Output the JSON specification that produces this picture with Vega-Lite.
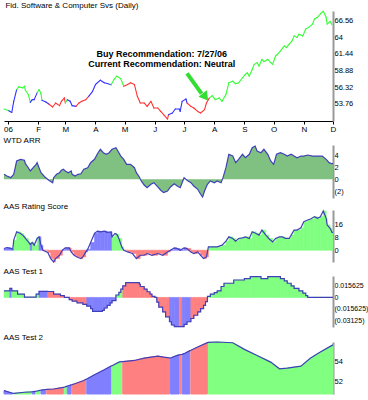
{
"$schema":"https://vega.github.io/schema/vega-lite/v6.json",
"padding":{"left":1,"top":1,"right":0,"bottom":0},
"spacing":3,
"resolve":{"scale":{"color":"independent","stroke":"independent"}},
"config":{"view":{"stroke":null},"title":{"anchor":"start","fontSize":8,"fontWeight":"normal","font":"Liberation Sans Narrow, Liberation Sans","color":"#000000","offset":1,"dx":2},"axis":{"labelFont":"Liberation Sans","labelFontSize":7.5,"labelColor":"#000000","grid":false,"labelOverlap":false}},
"vconcat":[
{"title":{"text":"Fid. Software & Computer Svs (Daily)","offset":1,"fontSize":8},"width":329,"height":110,
"resolve":{"axis":{"x":"independent","y":"independent"}},
"data":{"format":{"parse":{"d":"date"}},"values":[
{"d":"2005-12-28","v":52.99,"c":"g"},{"d":"2006-01-02","v":52.73,"c":"b"},{"d":"2006-01-05","v":52.46,"c":"b"},{"d":"2006-01-07","v":54.16,"c":"b"},{"d":"2006-01-10","v":55.97,"c":"g"},{"d":"2006-01-12","v":56.38,"c":"g"},{"d":"2006-01-16","v":56.23,"c":"g"},{"d":"2006-01-18","v":56.48,"c":"g"},{"d":"2006-01-19","v":55.86,"c":"g"},{"d":"2006-01-22","v":55.2,"c":"g"},{"d":"2006-01-24","v":54.01,"c":"b"},{"d":"2006-01-26","v":54.42,"c":"b"},{"d":"2006-01-28","v":54.42,"c":"b"},{"d":"2006-01-31","v":55.46,"c":"g"},{"d":"2006-02-02","v":55.97,"c":"g"},{"d":"2006-02-04","v":55.35,"c":"g"},{"d":"2006-02-05","v":54.32,"c":"b"},{"d":"2006-02-09","v":54.07,"c":"b"},{"d":"2006-02-12","v":53.76,"c":"r"},{"d":"2006-02-16","v":53.3,"c":"r"},{"d":"2006-02-19","v":53.91,"c":"r"},{"d":"2006-02-23","v":53.5,"c":"r"},{"d":"2006-02-25","v":54.16,"c":"r"},{"d":"2006-02-28","v":54.69,"c":"r"},{"d":"2006-03-01","v":53.91,"c":"g"},{"d":"2006-03-03","v":54.42,"c":"b"},{"d":"2006-03-06","v":54.16,"c":"b"},{"d":"2006-03-08","v":53.5,"c":"b"},{"d":"2006-03-12","v":53.39,"c":"r"},{"d":"2006-03-15","v":53.91,"c":"r"},{"d":"2006-03-18","v":54.16,"c":"r"},{"d":"2006-03-22","v":54.42,"c":"r"},{"d":"2006-03-25","v":54.93,"c":"b"},{"d":"2006-03-29","v":55.7,"c":"b"},{"d":"2006-04-01","v":56.74,"c":"b"},{"d":"2006-04-06","v":57.4,"c":"b"},{"d":"2006-04-10","v":57.0,"c":"b"},{"d":"2006-04-13","v":56.89,"c":"b"},{"d":"2006-04-17","v":56.69,"c":"g"},{"d":"2006-04-20","v":57.51,"c":"g"},{"d":"2006-04-23","v":58.02,"c":"g"},{"d":"2006-04-27","v":57.62,"c":"g"},{"d":"2006-04-30","v":56.48,"c":"r"},{"d":"2006-05-04","v":56.74,"c":"r"},{"d":"2006-05-07","v":57.0,"c":"r"},{"d":"2006-05-11","v":56.74,"c":"r"},{"d":"2006-05-14","v":54.93,"c":"r"},{"d":"2006-05-17","v":53.91,"c":"r"},{"d":"2006-05-21","v":53.91,"c":"r"},{"d":"2006-05-24","v":53.39,"c":"r"},{"d":"2006-05-28","v":54.16,"c":"r"},{"d":"2006-05-31","v":53.14,"c":"r"},{"d":"2006-06-04","v":53.14,"c":"r"},{"d":"2006-06-07","v":52.62,"c":"r"},{"d":"2006-06-10","v":52.11,"c":"r"},{"d":"2006-06-14","v":51.45,"c":"r"},{"d":"2006-06-15","v":52.11,"c":"b"},{"d":"2006-06-19","v":52.37,"c":"b"},{"d":"2006-06-22","v":52.99,"c":"b"},{"d":"2006-06-26","v":52.99,"c":"b"},{"d":"2006-06-27","v":52.62,"c":"b"},{"d":"2006-06-29","v":54.16,"c":"b"},{"d":"2006-07-03","v":54.53,"c":"b"},{"d":"2006-07-04","v":53.91,"c":"r"},{"d":"2006-07-08","v":53.39,"c":"r"},{"d":"2006-07-11","v":53.14,"c":"r"},{"d":"2006-07-15","v":52.62,"c":"r"},{"d":"2006-07-18","v":52.37,"c":"r"},{"d":"2006-07-22","v":52.88,"c":"r"},{"d":"2006-07-24","v":53.91,"c":"r"},{"d":"2006-07-27","v":54.69,"c":"g"},{"d":"2006-07-30","v":55.04,"c":"g"},{"d":"2006-08-02","v":54.42,"c":"g"},{"d":"2006-08-06","v":54.69,"c":"g"},{"d":"2006-08-09","v":54.16,"c":"g"},{"d":"2006-08-13","v":55.2,"c":"g"},{"d":"2006-08-16","v":57.0,"c":"g"},{"d":"2006-08-20","v":57.25,"c":"g"},{"d":"2006-08-23","v":56.85,"c":"g"},{"d":"2006-08-26","v":57.0,"c":"g"},{"d":"2006-08-30","v":57.77,"c":"g"},{"d":"2006-09-02","v":58.28,"c":"g"},{"d":"2006-09-04","v":58.54,"c":"g"},{"d":"2006-09-06","v":58.02,"c":"g"},{"d":"2006-09-09","v":59.05,"c":"g"},{"d":"2006-09-11","v":59.82,"c":"g"},{"d":"2006-09-14","v":60.09,"c":"g"},{"d":"2006-09-16","v":59.56,"c":"g"},{"d":"2006-09-19","v":60.6,"c":"g"},{"d":"2006-09-21","v":60.24,"c":"g"},{"d":"2006-09-25","v":60.6,"c":"g"},{"d":"2006-09-28","v":60.09,"c":"g"},{"d":"2006-09-30","v":59.82,"c":"g"},{"d":"2006-10-03","v":61.11,"c":"g"},{"d":"2006-10-05","v":61.37,"c":"g"},{"d":"2006-10-08","v":61.88,"c":"g"},{"d":"2006-10-12","v":62.65,"c":"g"},{"d":"2006-10-14","v":62.4,"c":"g"},{"d":"2006-10-17","v":62.91,"c":"g"},{"d":"2006-10-20","v":63.42,"c":"g"},{"d":"2006-10-22","v":64.19,"c":"g"},{"d":"2006-10-25","v":63.95,"c":"g"},{"d":"2006-10-27","v":64.45,"c":"g"},{"d":"2006-10-31","v":64.19,"c":"g"},{"d":"2006-11-03","v":65.23,"c":"g"},{"d":"2006-11-06","v":65.49,"c":"g"},{"d":"2006-11-10","v":66.0,"c":"g"},{"d":"2006-11-12","v":66.77,"c":"g"},{"d":"2006-11-15","v":67.03,"c":"g"},{"d":"2006-11-18","v":67.54,"c":"g"},{"d":"2006-11-21","v":67.96,"c":"g"},{"d":"2006-11-24","v":67.03,"c":"g"},{"d":"2006-11-25","v":66.0,"c":"g"},{"d":"2006-11-28","v":66.41,"c":"g"},{"d":"2006-11-30","v":65.89,"c":"g"}]},
"layer":[
{"transform":[{"window":[{"op":"lead","field":"d","as":"nd"},{"op":"lead","field":"v","as":"nv"}],"sort":[{"field":"d"}]},{"filter":"datum.nd != null"}],
"mark":{"type":"rule","strokeWidth":1.1,"strokeCap":"round"},
"encoding":{
"x":{"field":"d","type":"temporal","scale":{"domain":[{"year":2005,"month":12,"date":28},{"year":2006,"month":12,"date":1}]},"axis":{"orient":"bottom","tickCount":{"interval":"month","step":1},"labelExpr":"month(datum.value)==0 ? '06' : slice(timeFormat(datum.value,'%b'),0,1)","labelFontSize":8,"tickSize":3,"domainColor":"#000000","tickColor":"#000000","labelPadding":1,"labelOffset":0,"labelFlush":false,"labelOverlap":false,"title":null}},
"x2":{"field":"nd"},
"y":{"field":"v","type":"quantitative","scale":{"domain":[51.15,68.0],"nice":false,"zero":false},"axis":{"orient":"right","values":[53.76,56.32,58.88,61.44,64,66.56],"labelExpr":"format(datum.value,'~g')","labelOverlap":false,"ticks":false,"tickSize":0,"domainColor":"#999999","domainWidth":2,"labelPadding":1,"title":null}},
"y2":{"field":"nv"},
"color":{"field":"c","type":"nominal","scale":{"domain":["g","b","r"],"range":["#33FF33","#3333FF","#FF3333"]},"legend":null}}},
{"data":{"values":[{}]},"mark":{"type":"rule","strokeWidth":4,"color":"#33DD33"},"encoding":{"x":{"datum":{"year":2006,"month":7,"date":4},"type":"temporal","axis":null},"x2":{"datum":{"year":2006,"month":7,"date":19}},"y":{"datum":58.44,"type":"quantitative","axis":null},"y2":{"datum":55.35}}},
{"data":{"values":[{}]},"mark":{"type":"point","shape":"triangle","filled":true,"size":110,"angle":142,"color":"#33DD33","opacity":1},"encoding":{"x":{"datum":{"year":2006,"month":7,"date":22},"type":"temporal","axis":null},"y":{"datum":55.0,"type":"quantitative","axis":null}}},
{"data":{"values":[{}]},"mark":{"type":"text","text":["Buy Recommendation: 7/27/06","Current Recommendation: Neutral"],"font":"Liberation Sans","fontSize":9,"fontWeight":"bold","align":"center","baseline":"top","lineHeight":10.5,"color":"#000000"},"encoding":{"x":{"datum":{"year":2006,"month":6,"date":8},"type":"temporal","axis":null},"y":{"datum":62.1,"type":"quantitative","axis":null}}}
]},
{"title":{"text":"WTD ARR","offset":-1,"fontSize":8},"width":329,"height":53,
"data":{"format":{"parse":{"d":"date"}},"values":[
{"d":"2005-12-28","v":0.83},{"d":"2005-12-31","v":0.55},{"d":"2006-01-04","v":0.27},{"d":"2006-01-07","v":0.83},{"d":"2006-01-10","v":3.05},{"d":"2006-01-14","v":3.33},{"d":"2006-01-18","v":3.17},{"d":"2006-01-19","v":2.6},{"d":"2006-01-22","v":1.93},{"d":"2006-01-24","v":1.38},{"d":"2006-01-27","v":1.93},{"d":"2006-01-30","v":2.5},{"d":"2006-01-31","v":2.77},{"d":"2006-02-02","v":1.93},{"d":"2006-02-04","v":1.1},{"d":"2006-02-08","v":0.38},{"d":"2006-02-12","v":-0.17},{"d":"2006-02-16","v":-0.57},{"d":"2006-02-17","v":0.27},{"d":"2006-02-20","v":0.83},{"d":"2006-02-23","v":1.1},{"d":"2006-02-25","v":1.5},{"d":"2006-02-27","v":1.67},{"d":"2006-03-01","v":1.38},{"d":"2006-03-04","v":1.1},{"d":"2006-03-07","v":1.38},{"d":"2006-03-08","v":0.83},{"d":"2006-03-11","v":0.55},{"d":"2006-03-14","v":0.83},{"d":"2006-03-17","v":0.93},{"d":"2006-03-20","v":1.67},{"d":"2006-03-24","v":1.93},{"d":"2006-03-27","v":2.77},{"d":"2006-03-31","v":3.33},{"d":"2006-04-03","v":4.27},{"d":"2006-04-06","v":5.0},{"d":"2006-04-09","v":4.43},{"d":"2006-04-12","v":4.17},{"d":"2006-04-15","v":4.43},{"d":"2006-04-18","v":5.0},{"d":"2006-04-22","v":5.27},{"d":"2006-04-24","v":4.72},{"d":"2006-04-27","v":3.88},{"d":"2006-04-30","v":3.33},{"d":"2006-05-03","v":2.5},{"d":"2006-05-07","v":2.5},{"d":"2006-05-11","v":1.93},{"d":"2006-05-13","v":1.1},{"d":"2006-05-16","v":0.38},{"d":"2006-05-18","v":-0.28},{"d":"2006-05-21","v":-0.95},{"d":"2006-05-24","v":-1.4},{"d":"2006-05-28","v":-0.83},{"d":"2006-05-31","v":-0.57},{"d":"2006-06-04","v":-1.28},{"d":"2006-06-07","v":-1.83},{"d":"2006-06-10","v":-2.23},{"d":"2006-06-14","v":-1.95},{"d":"2006-06-17","v":-1.28},{"d":"2006-06-21","v":-0.73},{"d":"2006-06-24","v":-1.12},{"d":"2006-06-27","v":-1.4},{"d":"2006-07-01","v":0.27},{"d":"2006-07-04","v":-0.17},{"d":"2006-07-08","v":-0.57},{"d":"2006-07-11","v":-1.12},{"d":"2006-07-15","v":-1.67},{"d":"2006-07-18","v":-2.5},{"d":"2006-07-20","v":-2.95},{"d":"2006-07-22","v":-1.95},{"d":"2006-07-25","v":-0.83},{"d":"2006-07-28","v":-0.28},{"d":"2006-08-01","v":-0.57},{"d":"2006-08-04","v":-0.28},{"d":"2006-08-08","v":-0.57},{"d":"2006-08-10","v":0.27},{"d":"2006-08-13","v":1.93},{"d":"2006-08-16","v":4.17},{"d":"2006-08-20","v":3.88},{"d":"2006-08-23","v":2.77},{"d":"2006-08-26","v":3.33},{"d":"2006-08-30","v":4.17},{"d":"2006-09-02","v":3.6},{"d":"2006-09-06","v":4.17},{"d":"2006-09-09","v":5.27},{"d":"2006-09-12","v":5.55},{"d":"2006-09-14","v":4.72},{"d":"2006-09-18","v":4.43},{"d":"2006-09-21","v":5.0},{"d":"2006-09-25","v":4.17},{"d":"2006-09-28","v":3.05},{"d":"2006-10-01","v":2.5},{"d":"2006-10-04","v":4.17},{"d":"2006-10-08","v":4.43},{"d":"2006-10-12","v":4.17},{"d":"2006-10-15","v":3.88},{"d":"2006-10-19","v":4.17},{"d":"2006-10-22","v":3.88},{"d":"2006-10-25","v":3.6},{"d":"2006-10-29","v":3.88},{"d":"2006-11-01","v":3.88},{"d":"2006-11-05","v":4.05},{"d":"2006-11-10","v":3.88},{"d":"2006-11-15","v":3.88},{"d":"2006-11-20","v":3.88},{"d":"2006-11-24","v":3.33},{"d":"2006-11-27","v":2.77},{"d":"2006-11-30","v":2.6},{"d":"2006-12-01","v":2.6}]},
"encoding":{
"x":{"field":"d","type":"temporal","scale":{"domain":[{"year":2005,"month":12,"date":28},{"year":2006,"month":12,"date":1}]},"axis":null},
"y":{"field":"v","type":"quantitative","scale":{"domain":[-3.12,5.72],"nice":false,"zero":false},"axis":{"orient":"right","values":[-2,0,2,4],"labelExpr":"datum.value < 0 ? '(' + format(-datum.value,'~g') + ')' : format(datum.value,'~g')","labelOverlap":false,"ticks":false,"tickSize":0,"domainColor":"#999999","domainWidth":2,"labelPadding":1,"title":null}}},
"layer":[
{"mark":{"type":"area","color":"#80C080","opacity":1},"encoding":{"y2":{"datum":0}}},
{"mark":{"type":"line","color":"#4040B8","strokeWidth":1.2}}
]},
{"title":{"text":"AAS Rating Score","offset":-2.5,"fontSize":8},"width":329,"height":52,
"data":{"format":{"parse":{"d":"date"}},"values":[
{"d":"2005-12-28","v":1.05,"c":"b"},{"d":"2005-12-31","v":1.66,"c":"b"},{"d":"2006-01-04","v":1.05,"c":"b"},{"d":"2006-01-06","v":0.62,"c":"b"},{"d":"2006-01-07","v":6.15,"c":"g"},{"d":"2006-01-10","v":11.26,"c":"g"},{"d":"2006-01-14","v":10.28,"c":"g"},{"d":"2006-01-17","v":8.8,"c":"g"},{"d":"2006-01-19","v":7.2,"c":"g"},{"d":"2006-01-22","v":5.1,"c":"g"},{"d":"2006-01-24","v":3.5,"c":"b"},{"d":"2006-01-26","v":4.74,"c":"g"},{"d":"2006-01-28","v":3.08,"c":"g"},{"d":"2006-01-31","v":7.2,"c":"g"},{"d":"2006-02-02","v":8.18,"c":"b"},{"d":"2006-02-04","v":3.08,"c":"b"},{"d":"2006-02-06","v":0,"c":"r"},{"d":"2006-02-11","v":-1.42,"c":"r"},{"d":"2006-02-14","v":-5.1,"c":"r"},{"d":"2006-02-17","v":-7.2,"c":"r"},{"d":"2006-02-19","v":-5.1,"c":"r"},{"d":"2006-02-23","v":-3.08,"c":"r"},{"d":"2006-02-26","v":0,"c":"b"},{"d":"2006-03-01","v":1.42,"c":"b"},{"d":"2006-03-05","v":1.42,"c":"r"},{"d":"2006-03-07","v":-1.05,"c":"r"},{"d":"2006-03-10","v":-3.08,"c":"r"},{"d":"2006-03-13","v":-4.12,"c":"r"},{"d":"2006-03-17","v":-5.1,"c":"r"},{"d":"2006-03-19","v":-4.12,"c":"r"},{"d":"2006-03-22","v":-1.05,"c":"b"},{"d":"2006-03-24","v":0.62,"c":"b"},{"d":"2006-03-27","v":4.74,"c":"b"},{"d":"2006-03-31","v":10.28,"c":"b"},{"d":"2006-04-03","v":11.7,"c":"b"},{"d":"2006-04-06","v":11.26,"c":"b"},{"d":"2006-04-10","v":11.7,"c":"b"},{"d":"2006-04-13","v":10.9,"c":"b"},{"d":"2006-04-17","v":11.26,"c":"b"},{"d":"2006-04-18","v":8.18,"c":"g"},{"d":"2006-04-21","v":10.28,"c":"g"},{"d":"2006-04-23","v":9.66,"c":"g"},{"d":"2006-04-25","v":7.2,"c":"g"},{"d":"2006-04-28","v":2.03,"c":"g"},{"d":"2006-04-30","v":0,"c":"r"},{"d":"2006-05-04","v":-1.05,"c":"r"},{"d":"2006-05-09","v":-2.03,"c":"r"},{"d":"2006-05-13","v":-5.1,"c":"r"},{"d":"2006-05-17","v":-3.08,"c":"r"},{"d":"2006-05-21","v":-3.08,"c":"r"},{"d":"2006-05-24","v":-2.03,"c":"r"},{"d":"2006-05-29","v":-3.08,"c":"r"},{"d":"2006-06-04","v":-2.03,"c":"r"},{"d":"2006-06-09","v":-3.08,"c":"r"},{"d":"2006-06-14","v":-1.05,"c":"r"},{"d":"2006-06-17","v":0,"c":"b"},{"d":"2006-06-21","v":1.42,"c":"b"},{"d":"2006-06-24","v":1.05,"c":"b"},{"d":"2006-06-27","v":0,"c":"b"},{"d":"2006-07-01","v":1.42,"c":"b"},{"d":"2006-07-04","v":1.05,"c":"r"},{"d":"2006-07-08","v":-1.05,"c":"r"},{"d":"2006-07-11","v":-2.03,"c":"r"},{"d":"2006-07-15","v":-1.05,"c":"r"},{"d":"2006-07-18","v":-3.08,"c":"r"},{"d":"2006-07-21","v":-5.1,"c":"r"},{"d":"2006-07-24","v":-4.12,"c":"r"},{"d":"2006-07-26","v":2.03,"c":"g"},{"d":"2006-07-28","v":2.03,"c":"g"},{"d":"2006-08-01","v":2.03,"c":"g"},{"d":"2006-08-04","v":2.03,"c":"g"},{"d":"2006-08-09","v":3.08,"c":"g"},{"d":"2006-08-13","v":5.54,"c":"g"},{"d":"2006-08-16","v":8.18,"c":"g"},{"d":"2006-08-20","v":7.2,"c":"g"},{"d":"2006-08-23","v":5.54,"c":"g"},{"d":"2006-08-26","v":7.2,"c":"g"},{"d":"2006-08-30","v":7.57,"c":"g"},{"d":"2006-09-02","v":8.18,"c":"g"},{"d":"2006-09-06","v":7.2,"c":"g"},{"d":"2006-09-09","v":11.26,"c":"g"},{"d":"2006-09-13","v":10.28,"c":"g"},{"d":"2006-09-16","v":9.23,"c":"g"},{"d":"2006-09-19","v":12.3,"c":"g"},{"d":"2006-09-23","v":9.23,"c":"g"},{"d":"2006-09-26","v":7.2,"c":"g"},{"d":"2006-09-30","v":5.1,"c":"g"},{"d":"2006-10-03","v":7.2,"c":"g"},{"d":"2006-10-07","v":8.18,"c":"g"},{"d":"2006-10-10","v":8.18,"c":"g"},{"d":"2006-10-13","v":7.2,"c":"g"},{"d":"2006-10-17","v":7.2,"c":"g"},{"d":"2006-10-19","v":9.23,"c":"g"},{"d":"2006-10-22","v":12.3,"c":"g"},{"d":"2006-10-25","v":12.3,"c":"g"},{"d":"2006-10-29","v":13.7,"c":"g"},{"d":"2006-11-01","v":17.4,"c":"g"},{"d":"2006-11-05","v":18.5,"c":"g"},{"d":"2006-11-08","v":19.1,"c":"g"},{"d":"2006-11-12","v":20.5,"c":"g"},{"d":"2006-11-15","v":19.5,"c":"g"},{"d":"2006-11-18","v":20.5,"c":"g"},{"d":"2006-11-21","v":24.0,"c":"g"},{"d":"2006-11-24","v":19.5,"c":"g"},{"d":"2006-11-25","v":15.4,"c":"g"},{"d":"2006-11-28","v":13.4,"c":"g"},{"d":"2006-11-30","v":10.9,"c":"g"},{"d":"2006-12-01","v":10.9,"c":"g"}]},
"encoding":{
"x":{"field":"d","type":"temporal","scale":{"domain":[{"year":2005,"month":12,"date":28},{"year":2006,"month":12,"date":1}]},"axis":null},
"y":{"field":"v","type":"quantitative","scale":{"domain":[-7.2,24.6],"nice":false,"zero":false},"axis":{"orient":"right","values":[0,8,16],"labelExpr":"format(datum.value,'d')","labelOverlap":false,"ticks":false,"tickSize":0,"domainColor":"#999999","domainWidth":2,"labelPadding":1,"title":null}}},
"layer":[
{"transform":[{"window":[{"op":"lead","field":"d","as":"nd"}],"sort":[{"field":"d"}]},{"filter":"datum.nd != null"}],
"mark":{"type":"rect","strokeWidth":0.6},
"encoding":{"x2":{"field":"nd"},"y2":{"datum":0},
"color":{"field":"c","type":"nominal","scale":{"domain":["g","b","r"],"range":["#80FF80","#8080FF","#FF8080"]},"legend":null},
"stroke":{"field":"c","type":"nominal","scale":{"domain":["g","b","r"],"range":["#80FF80","#8080FF","#FF8080"]},"legend":null}}},
{"mark":{"type":"line","color":"#4040B8","strokeWidth":1.2}}
]},
{"title":{"text":"AAS Test 1","offset":-2,"fontSize":8},"width":329,"height":51,
"data":{"format":{"parse":{"d":"date"}},"values":[
{"d":"2005-12-28","v":0.009,"c":"g"},{"d":"2006-01-03","v":0.0122,"c":"b"},{"d":"2006-01-05","v":0.009,"c":"g"},{"d":"2006-01-11","v":0.0046,"c":"g"},{"d":"2006-01-18","v":0.0003,"c":"g"},{"d":"2006-01-30","v":0.0046,"c":"g"},{"d":"2006-02-02","v":0.0082,"c":"b"},{"d":"2006-02-11","v":0.008,"c":"r"},{"d":"2006-02-17","v":0.0046,"c":"r"},{"d":"2006-02-24","v":0.0024,"c":"r"},{"d":"2006-02-28","v":0,"c":"r"},{"d":"2006-03-05","v":-0.0029,"c":"r"},{"d":"2006-03-08","v":-0.0051,"c":"r"},{"d":"2006-03-13","v":-0.0073,"c":"r"},{"d":"2006-03-19","v":-0.0095,"c":"r"},{"d":"2006-03-23","v":-0.0117,"c":"b"},{"d":"2006-03-27","v":-0.0152,"c":"b"},{"d":"2006-03-29","v":-0.0188,"c":"b"},{"d":"2006-04-08","v":-0.0174,"c":"b"},{"d":"2006-04-10","v":-0.0143,"c":"b"},{"d":"2006-04-13","v":-0.0108,"c":"b"},{"d":"2006-04-16","v":-0.0073,"c":"b"},{"d":"2006-04-18","v":-0.0042,"c":"b"},{"d":"2006-04-22","v":0.0033,"c":"g"},{"d":"2006-04-25","v":0.0069,"c":"g"},{"d":"2006-04-27","v":0.0113,"c":"g"},{"d":"2006-04-29","v":0.0156,"c":"r"},{"d":"2006-05-02","v":0.0201,"c":"r"},{"d":"2006-05-16","v":0.0179,"c":"r"},{"d":"2006-05-17","v":0.0148,"c":"r"},{"d":"2006-05-21","v":0.0113,"c":"r"},{"d":"2006-05-24","v":0.0077,"c":"r"},{"d":"2006-05-27","v":0.0046,"c":"r"},{"d":"2006-05-29","v":0.0015,"c":"r"},{"d":"2006-06-01","v":0,"c":"r"},{"d":"2006-06-03","v":-0.0064,"c":"r"},{"d":"2006-06-05","v":-0.013,"c":"r"},{"d":"2006-06-09","v":-0.0196,"c":"r"},{"d":"2006-06-12","v":-0.0262,"c":"r"},{"d":"2006-06-16","v":-0.0329,"c":"b"},{"d":"2006-06-18","v":-0.0373,"c":"b"},{"d":"2006-06-21","v":-0.0395,"c":"b"},{"d":"2006-06-26","v":-0.0395,"c":"r"},{"d":"2006-06-29","v":-0.0395,"c":"b"},{"d":"2006-07-01","v":-0.0364,"c":"b"},{"d":"2006-07-04","v":-0.0329,"c":"b"},{"d":"2006-07-08","v":-0.0285,"c":"r"},{"d":"2006-07-11","v":-0.0241,"c":"r"},{"d":"2006-07-15","v":-0.0196,"c":"r"},{"d":"2006-07-18","v":-0.0152,"c":"r"},{"d":"2006-07-21","v":-0.0108,"c":"r"},{"d":"2006-07-23","v":-0.0057,"c":"r"},{"d":"2006-07-25","v":0.0015,"c":"g"},{"d":"2006-07-28","v":0.0046,"c":"g"},{"d":"2006-08-01","v":0.0066,"c":"g"},{"d":"2006-08-04","v":0.009,"c":"g"},{"d":"2006-08-08","v":0.0148,"c":"g"},{"d":"2006-08-11","v":0.0192,"c":"g"},{"d":"2006-08-21","v":0.0236,"c":"g"},{"d":"2006-09-01","v":0.0254,"c":"g"},{"d":"2006-09-07","v":0.0281,"c":"g"},{"d":"2006-09-18","v":0.0254,"c":"g"},{"d":"2006-09-25","v":0.0281,"c":"g"},{"d":"2006-10-08","v":0.0254,"c":"g"},{"d":"2006-10-12","v":0.0223,"c":"g"},{"d":"2006-10-15","v":0.0192,"c":"g"},{"d":"2006-10-19","v":0.0156,"c":"g"},{"d":"2006-10-22","v":0.0122,"c":"g"},{"d":"2006-10-27","v":0.009,"c":"g"},{"d":"2006-10-31","v":0.0059,"c":"g"},{"d":"2006-11-03","v":0.0024,"c":"g"},{"d":"2006-11-05","v":0,"c":"g"},{"d":"2006-12-01","v":0,"c":"g"}]},
"encoding":{
"x":{"field":"d","type":"temporal","scale":{"domain":[{"year":2005,"month":12,"date":28},{"year":2006,"month":12,"date":1}]},"axis":null},
"y":{"field":"v","type":"quantitative","scale":{"domain":[-0.04,0.029],"nice":false,"zero":false},"axis":{"orient":"right","values":[-0.03125,-0.015625,0,0.015625],"labelExpr":"datum.value < 0 ? '(' + format(-datum.value,'~g') + ')' : format(datum.value,'~g')","labelOverlap":false,"labelFontSize":7,"ticks":false,"tickSize":0,"domainColor":"#999999","domainWidth":2,"labelPadding":1,"title":null}}},
"layer":[
{"transform":[{"window":[{"op":"lead","field":"d","as":"nd"}],"sort":[{"field":"d"}]},{"filter":"datum.nd != null"}],
"mark":{"type":"rect","strokeWidth":0.6},
"encoding":{"x2":{"field":"nd"},"y2":{"datum":0},
"color":{"field":"c","type":"nominal","scale":{"domain":["g","b","r"],"range":["#80FF80","#8080FF","#FF8080"]},"legend":null},
"stroke":{"field":"c","type":"nominal","scale":{"domain":["g","b","r"],"range":["#80FF80","#8080FF","#FF8080"]},"legend":null}}},
{"mark":{"type":"line","color":"#4040B8","strokeWidth":1.2,"interpolate":"step-after"}}
]},
{"title":{"text":"AAS Test 2","offset":-2,"fontSize":8},"width":329,"height":52,
"data":{"format":{"parse":{"d":"date"}},"values":[
{"d":"2005-12-28","v":51.12,"c":"b","s":1},{"d":"2006-01-06","v":50.86,"c":"b","s":1},
{"d":"2006-01-07","v":50.85,"c":"g","s":2},{"d":"2006-01-18","v":50.96,"c":"g","s":2},{"d":"2006-01-25","v":51.0,"c":"g","s":2},
{"d":"2006-01-26","v":51.01,"c":"b","s":3},{"d":"2006-01-29","v":51.05,"c":"b","s":3},
{"d":"2006-01-30","v":51.06,"c":"g","s":4},{"d":"2006-02-03","v":51.15,"c":"g","s":4},
{"d":"2006-02-04","v":51.16,"c":"b","s":5},{"d":"2006-02-09","v":51.23,"c":"b","s":5},
{"d":"2006-02-10","v":51.24,"c":"r","s":6},{"d":"2006-02-17","v":51.28,"c":"r","s":6},{"d":"2006-02-27","v":51.44,"c":"r","s":6},
{"d":"2006-02-28","v":51.45,"c":"g","s":7},{"d":"2006-03-02","v":51.53,"c":"g","s":7},
{"d":"2006-03-03","v":51.55,"c":"b","s":8},{"d":"2006-03-07","v":51.68,"c":"b","s":8},
{"d":"2006-03-08","v":51.7,"c":"r","s":9},{"d":"2006-03-10","v":51.77,"c":"r","s":9},{"d":"2006-03-20","v":52.1,"c":"r","s":9},{"d":"2006-03-22","v":52.22,"c":"r","s":9},
{"d":"2006-03-23","v":52.25,"c":"b","s":10},{"d":"2006-03-31","v":52.66,"c":"b","s":10},{"d":"2006-04-10","v":53.15,"c":"b","s":10},{"d":"2006-04-17","v":53.52,"c":"b","s":10},
{"d":"2006-04-18","v":53.55,"c":"g","s":11},{"d":"2006-04-25","v":53.9,"c":"g","s":11},{"d":"2006-04-28","v":53.94,"c":"g","s":11},
{"d":"2006-04-29","v":53.95,"c":"r","s":12},{"d":"2006-05-11","v":54.06,"c":"r","s":12},{"d":"2006-05-21","v":54.29,"c":"r","s":12},{"d":"2006-06-04","v":54.49,"c":"r","s":12},{"d":"2006-06-10","v":54.39,"c":"r","s":12},{"d":"2006-06-16","v":54.31,"c":"r","s":12},
{"d":"2006-06-17","v":54.3,"c":"b","s":13},{"d":"2006-06-24","v":54.55,"c":"b","s":13},{"d":"2006-06-26","v":54.61,"c":"b","s":13},
{"d":"2006-06-27","v":54.62,"c":"r","s":14},{"d":"2006-06-28","v":54.64,"c":"r","s":14},
{"d":"2006-06-29","v":54.66,"c":"b","s":15},{"d":"2006-07-01","v":54.72,"c":"b","s":15},{"d":"2006-07-07","v":55.02,"c":"b","s":15},
{"d":"2006-07-08","v":55.05,"c":"r","s":16},{"d":"2006-07-15","v":55.37,"c":"r","s":16},{"d":"2006-07-25","v":55.8,"c":"r","s":16},
{"d":"2006-07-26","v":55.83,"c":"g","s":17},{"d":"2006-08-04","v":55.86,"c":"g","s":17},{"d":"2006-08-20","v":55.79,"c":"g","s":17},{"d":"2006-09-01","v":55.14,"c":"g","s":17},{"d":"2006-09-14","v":54.55,"c":"g","s":17},{"d":"2006-09-28","v":53.9,"c":"g","s":17},{"d":"2006-10-07","v":53.25,"c":"g","s":17},{"d":"2006-10-15","v":53.31,"c":"g","s":17},{"d":"2006-10-29","v":53.51,"c":"g","s":17},{"d":"2006-11-08","v":54.29,"c":"g","s":17},{"d":"2006-11-18","v":54.88,"c":"g","s":17},{"d":"2006-11-30","v":55.53,"c":"g","s":17},{"d":"2006-12-01","v":55.6,"c":"g","s":17}]},
"encoding":{
"x":{"field":"d","type":"temporal","scale":{"domain":[{"year":2005,"month":12,"date":28},{"year":2006,"month":12,"date":1}]},"axis":null},
"y":{"field":"v","type":"quantitative","scale":{"domain":[50.79,55.86],"nice":false,"zero":false},"axis":{"orient":"right","values":[52,54],"labelExpr":"format(datum.value,'d')","labelOverlap":false,"ticks":false,"tickSize":0,"domainColor":"#999999","domainWidth":2,"labelPadding":1,"title":null}}},
"layer":[
{"mark":{"type":"area","opacity":1,"strokeWidth":1},
"encoding":{"y2":{"datum":50.79},
"color":{"field":"c","type":"nominal","scale":{"domain":["g","b","r"],"range":["#80FF80","#8080FF","#FF8080"]},"legend":null},
"stroke":{"field":"c","type":"nominal","scale":{"domain":["g","b","r"],"range":["#80FF80","#8080FF","#FF8080"]},"legend":null},
"detail":{"field":"s","type":"nominal"}}},
{"mark":{"type":"line","color":"#4040B8","strokeWidth":1.2}}
]}
]
}
